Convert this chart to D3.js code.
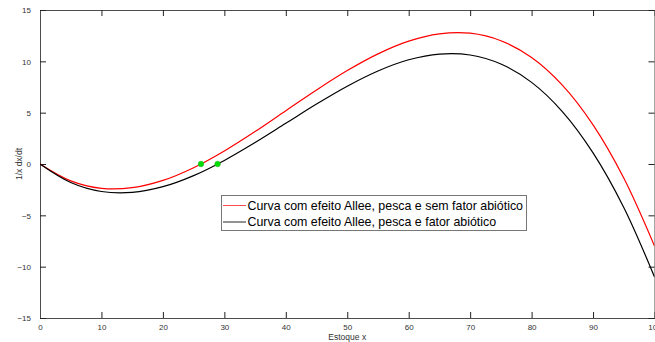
<!DOCTYPE html>
<html>
<head>
<meta charset="utf-8">
<script src="https://cdn.jsdelivr.net/npm/d3@7"></script>
<style>
  html, body { margin: 0; padding: 0; background: #fff; }
  svg { display: block; font-family: "Liberation Sans", Arial, Helvetica, sans-serif; }
</style>
</head>
<body>
<svg id="chart" width="655" height="342"></svg>
<script>
// Stock levels (x) where the per-capita growth rate is sampled
const stock = [0, 5, 10, 15, 20, 25, 30, 35, 40, 45, 50, 55, 60, 65, 70, 75, 80, 85, 90, 95, 100];

// Per-capita growth 1/x dx/dt: Allee effect + harvest, no abiotic factor
const growthNoAbiotic = [0, -1.64, -2.37, -2.31, -1.60, -0.36, 1.27, 3.16, 5.19, 7.21, 9.10,
  10.73, 11.97, 12.68, 12.74, 12.01, 10.37, 7.68, 3.81, -1.37, -7.99];

// Per-capita growth 1/x dx/dt: Allee effect + harvest + abiotic factor
const growthAbiotic = [0, -1.80, -2.68, -2.77, -2.21, -1.13, 0.35, 2.09, 3.96, 5.84, 7.58,
  9.06, 10.15, 10.71, 10.62, 9.74, 7.95, 5.11, 1.09, -4.23, -11.0];

// Equilibria marked on the zero line
const equilibria = [26.2, 28.9];

const xTicks = [0, 10, 20, 30, 40, 50, 60, 70, 80, 90, 100];
const yTicks = [-15, -10, -5, 0, 5, 10, 15];

const seriesNames = [
  "Curva com efeito Allee, pesca e sem fator abiótico",
  "Curva com efeito Allee, pesca e fator abiótico"
];
const seriesColors = ["#ff0000", "#000000"];

const svg = d3.select("#chart");
const mLeft = 40, mRight = 654.5, mTop = 10, mBottom = 318;

const x = d3.scaleLinear().domain([0, 100]).range([mLeft, mRight]);
const y = d3.scaleLinear().domain([-15, 15]).range([mBottom, mTop]);

const axisColor = "#4d4d4d";
const tickLen = 6;

// Axes (box with inward ticks on all four sides)
const gx = svg.append("g").attr("transform", `translate(0,${mBottom})`)
  .call(d3.axisBottom(x).tickValues(xTicks).tickSize(-tickLen).tickPadding(8).tickSizeOuter(0));
const gxTop = svg.append("g").attr("transform", `translate(0,${mTop})`)
  .call(d3.axisTop(x).tickValues(xTicks).tickSize(-tickLen).tickFormat("").tickSizeOuter(0));
const gy = svg.append("g").attr("transform", `translate(${mLeft},0)`)
  .call(d3.axisLeft(y).tickValues(yTicks).tickSize(-tickLen).tickPadding(tickLen + 3).tickSizeOuter(0));
const gyRight = svg.append("g").attr("transform", `translate(${mRight},0)`)
  .call(d3.axisRight(y).tickValues(yTicks).tickSize(-tickLen).tickFormat("").tickSizeOuter(0));

[gx, gxTop, gy, gyRight].forEach(g => {
  g.select(".domain").attr("stroke", axisColor).attr("stroke-width", 1);
  g.selectAll(".tick line").attr("stroke", "#222").attr("stroke-width", 1);
  g.selectAll(".tick text").attr("fill", "#333").attr("font-size", 8)
    .attr("font-family", "Liberation Sans, Arial, sans-serif");
});
gx.selectAll(".tick text").attr("dy", "0.45em");
gy.selectAll(".tick text").attr("dy", "0.35em");

// Axis titles
svg.append("text").attr("x", (mLeft + mRight) / 2).attr("y", 339.5)
  .attr("text-anchor", "middle").attr("font-size", 8.5).attr("fill", "#333")
  .text("Estoque x");
svg.append("text")
  .attr("transform", `translate(22,${(mTop + mBottom) / 2}) rotate(-90)`)
  .attr("text-anchor", "middle").attr("font-size", 8.5).attr("fill", "#333")
  .text("1/x dx/dt");

// Curves
const line = d3.line().x((d, i) => x(stock[i])).y(d => y(d)).curve(d3.curveCatmullRom.alpha(0.5));
svg.append("clipPath").attr("id", "plot-area")
  .append("rect").attr("x", mLeft).attr("y", mTop).attr("width", mRight - mLeft).attr("height", mBottom - mTop);

[growthNoAbiotic, growthAbiotic].forEach((vals, i) => {
  svg.append("path").datum(vals)
    .attr("fill", "none").attr("stroke", seriesColors[i]).attr("stroke-width", 1.2)
    .attr("clip-path", "url(#plot-area)")
    .attr("d", line);
});

// Equilibrium points
svg.selectAll("circle.eq").data(equilibria).enter().append("circle")
  .attr("class", "eq")
  .attr("cx", d => x(d)).attr("cy", y(0)).attr("r", 2.8)
  .attr("fill", "#00e000").attr("stroke", "#22b522").attr("stroke-width", 0.6);

// Legend
const lg = svg.append("g");
lg.append("rect").attr("x", 221.5).attr("y", 195.5).attr("width", 305).attr("height", 35)
  .attr("fill", "#fff").attr("stroke", "#777").attr("stroke-width", 1);
seriesNames.forEach((name, i) => {
  const ly = 205.5 + i * 16.5;
  lg.append("line").attr("x1", 223).attr("x2", 246).attr("y1", ly).attr("y2", ly)
    .attr("stroke", seriesColors[i]).attr("stroke-width", 1).attr("opacity", i === 0 ? 0.7 : 0.85);
  lg.append("text").attr("x", 247.5).attr("y", ly).attr("dy", "0.36em")
    .attr("font-size", 12.4).attr("fill", "#000").text(name);
});
</script>
</body>
</html>
